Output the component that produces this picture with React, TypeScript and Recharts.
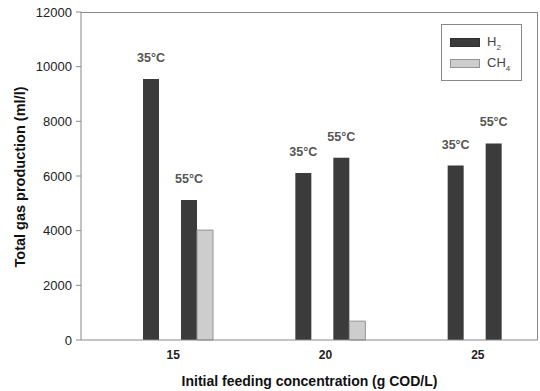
import React from 'react';
import { BarChart, Bar, XAxis, YAxis, LabelList } from 'recharts';

// feeding concentration (g COD/L)
const concentrations = ['15', '20', '25'];

// total gas production (ml/l) per temperature
const h2At35 = [9550, 6110, 6380];
const ch4At35 = [0, 0, 0];
const h2At55 = [5120, 6670, 7190];
const ch4At55 = [4020, 690, 0];

const yTicks = [0, 2000, 4000, 6000, 8000, 10000, 12000];

const data = concentrations.map((c, i) => ({
  conc: c,
  h2_35: h2At35[i],
  ch4_35: ch4At35[i],
  h2_55: h2At55[i],
  ch4_55: ch4At55[i],
}));

const FONT = '"Liberation Sans", Arial, sans-serif';
const AXIS = '#8a8a8a';
const H2_FILL = '#3b3b3b';
const CH4_FILL = '#cdcdcd';
const CH4_EDGE = '#949494';

const tempLabel = (text: string) => (props: any) => {
  const { x, y, width } = props;
  return (
    <text
      x={x + width / 2}
      y={y - 17}
      textAnchor="middle"
      fontFamily={FONT}
      fontSize={12.5}
      fontWeight="bold"
      fill="#555"
    >
      {text}
    </text>
  );
};

function GasLegend() {
  const row = (fill: string, edge: string, name: string, sub: string) => (
    <div style={{ display: 'flex', alignItems: 'center', height: 21 }}>
      <div
        style={{
          width: 30,
          height: 9,
          background: fill,
          border: `1px solid ${edge}`,
          boxSizing: 'border-box',
          marginRight: 7,
        }}
      />
      <span style={{ fontFamily: FONT, fontSize: 13, color: '#444' }}>
        {name}
        <sub style={{ fontSize: 8, color: '#444' }}>{sub}</sub>
      </span>
    </div>
  );
  return (
    <div
      style={{
        width: 81,
        height: 57,
        border: `1px solid ${AXIS}`,
        boxSizing: 'border-box',
        padding: '7px 0 0 8px',
        background: '#fff',
      }}
    >
      {row(H2_FILL, '#2e2e2e', 'H', '2')}
      {row(CH4_FILL, CH4_EDGE, 'CH', '4')}
    </div>
  );
}

export default function App() {
  return (
    <div style={{ position: 'absolute', left: 0, top: 0, width: 540, height: 391, background: '#fff' }}>
      <BarChart
        width={540}
        height={391}
        data={data}
        margin={{ top: 12, right: 2, left: 0, bottom: 0 }}
        barGap={0}
      >
        <XAxis
          dataKey="conc"
          height={51}
          tickLine={false}
          tickSize={0}
          tickMargin={10}
          stroke={AXIS}
          tick={{ fontFamily: FONT, fontSize: 12, fontWeight: 'bold', fill: '#222', dx: 16 }}
          label={{
            value: 'Initial feeding concentration (g COD/L)',
            position: 'insideBottom',
            offset: 5,
            style: { fontFamily: FONT, fontSize: 14, fontWeight: 'bold', fill: '#111' },
          }}
        />
        <YAxis
          width={81}
          domain={[0, 12000]}
          ticks={yTicks}
          interval={0}
          tickSize={5}
          tickMargin={4}
          stroke={AXIS}
          tick={{ fontFamily: FONT, fontSize: 13, fill: '#222' }}
          label={() => (
            <text
              x={25}
              y={177}
              transform="rotate(-90 25 177)"
              textAnchor="middle"
              fontFamily={FONT}
              fontSize={14.5}
              fontWeight="bold"
              fill="#111"
            >
              Total gas production (ml/l)
            </text>
          )}
        />

        {/* invisible slots shift each group and split the two temperatures */}
        <Bar dataKey="lead" barSize={42} fill="none" isAnimationActive={false} />
        <Bar dataKey="h2_35" barSize={16} fill={H2_FILL} isAnimationActive={false}>
          <LabelList dataKey="h2_35" content={tempLabel('35°C')} />
        </Bar>
        <Bar dataKey="ch4_35" barSize={16} fill={CH4_FILL} isAnimationActive={false} />
        <Bar dataKey="mid" barSize={6} fill="none" isAnimationActive={false} />
        <Bar dataKey="h2_55" barSize={16} fill={H2_FILL} isAnimationActive={false}>
          <LabelList dataKey="h2_55" content={tempLabel('55°C')} />
        </Bar>
        <Bar dataKey="ch4_55" barSize={16} fill={CH4_FILL} stroke={CH4_EDGE} strokeWidth={1} isAnimationActive={false} />
      </BarChart>
      {/* top and right edges of the plot frame */}
      <div
        style={{
          position: 'absolute',
          left: 81,
          top: 12,
          width: 457,
          height: 328,
          borderTop: `1px solid ${AXIS}`,
          borderRight: `1px solid ${AXIS}`,
          boxSizing: 'border-box',
          pointerEvents: 'none',
        }}
      />
      <div style={{ position: 'absolute', left: 441, top: 24 }}>
        <GasLegend />
      </div>
    </div>
  );
}
